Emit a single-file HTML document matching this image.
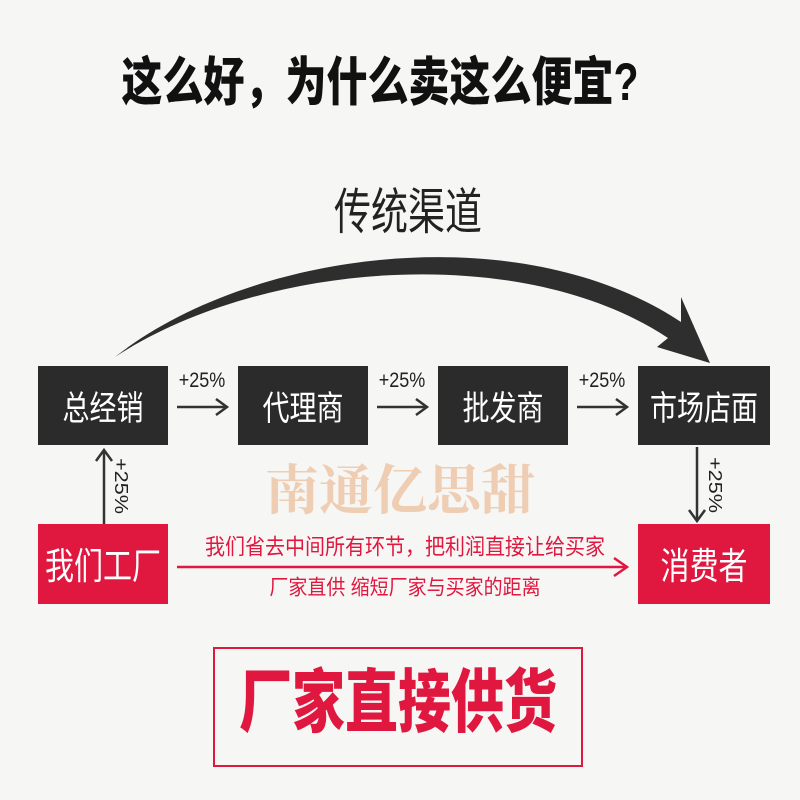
<!DOCTYPE html>
<html><head><meta charset="utf-8"><style>
body{margin:0;background:#f6f6f5;}
#c{position:relative;width:800px;height:800px;overflow:hidden;background:#f6f6f5;font-family:"Liberation Sans","Noto Sans CJK SC",sans-serif;}
.t{position:absolute;white-space:nowrap;text-align:center;transform-origin:center center;line-height:1;}
.box{position:absolute;background:#2b2b2b;color:#fff;display:flex;align-items:center;justify-content:center;font-size:27px;}
.box span{display:inline-block;transform:scaleY(1.27);}
.red{background:#e0173f;font-size:29px;}
</style></head><body><div id="c">
<div class="t" style="left:0;width:800px;top:62px;font-size:41px;font-weight:900;color:#111;transform:scaleY(1.28);margin-left:-20px">这么好，为什么卖这么便宜?</div>
<div class="t" style="left:0;width:800px;top:194px;font-size:37px;color:#222;transform:scaleY(1.33);margin-left:8px">传统渠道</div>

<svg style="position:absolute;left:0;top:0" width="800" height="800">
<path d="M115,357 C250,250 520,215 681,322 L681,297 L710,363 L657,347 L668,338 C520,240 260,262 115,357 Z" fill="#2e2e2e"/>
<g stroke="#333" stroke-width="2.5" fill="none">
<line x1="177" y1="407" x2="226" y2="407"/><polyline points="216,399 227,407 216,415"/>
<line x1="377" y1="407" x2="426" y2="407"/><polyline points="416,399 427,407 416,415"/>
<line x1="577" y1="407" x2="626" y2="407"/><polyline points="616,399 627,407 616,415"/>
<line x1="104" y1="450" x2="104" y2="524"/><polyline points="96,461 104,450 112,461"/>
<line x1="697" y1="447" x2="697" y2="521"/><polyline points="689,510 697,521 705,510"/>
</g>
<g stroke="#e0173f" stroke-width="2.5" fill="none">
<line x1="177" y1="567" x2="626" y2="567"/><polyline points="614,558 627,567 614,576"/>
</g>
</svg>

<div class="box" style="left:38px;top:366px;width:130px;height:79px"><span>总经销</span></div>
<div class="box" style="left:238px;top:366px;width:130px;height:79px"><span>代理商</span></div>
<div class="box" style="left:438px;top:366px;width:130px;height:79px"><span>批发商</span></div>
<div class="box" style="left:638px;top:366px;width:132px;height:79px"><span>市场店面</span></div>
<div class="box red" style="left:38px;top:524px;width:130px;height:80px"><span>我们工厂</span></div>
<div class="box red" style="left:638px;top:524px;width:132px;height:80px"><span>消费者</span></div>

<div class="t" style="left:172px;width:60px;top:371px;font-size:18px;color:#222;transform:scaleY(1.2)">+25%</div>
<div class="t" style="left:372px;width:60px;top:371px;font-size:18px;color:#222;transform:scaleY(1.2)">+25%</div>
<div class="t" style="left:572px;width:60px;top:371px;font-size:18px;color:#222;transform:scaleY(1.2)">+25%</div>
<div class="t" style="left:91px;width:60px;top:477px;font-size:18px;color:#222;transform:rotate(90deg) scaleX(1.2)">+25%</div>
<div class="t" style="left:685px;width:60px;top:476px;font-size:18px;color:#222;transform:rotate(90deg) scaleX(1.2)">+25%</div>

<div class="t" style="left:0;width:800px;top:464px;font-size:54px;font-weight:bold;color:#efcdb3;font-family:'Liberation Serif','Noto Serif CJK SC',serif">南通亿思甜</div>

<div class="t" style="left:205px;width:400px;top:538px;font-size:20px;color:#e0173f;transform:scaleY(1.1)">我们省去中间所有环节，把利润直接让给买家</div>
<div class="t" style="left:205px;width:400px;top:579px;font-size:19px;color:#e0173f;transform:scaleY(1.1)">厂家直供 缩短厂家与买家的距离</div>

<div style="position:absolute;left:213px;top:647px;width:366px;height:116px;border:2px solid #e0173f;"></div>
<div class="t" style="left:213px;width:370px;top:677px;font-size:53px;font-weight:900;color:#e0173f;transform:scaleY(1.3)">厂家直接供货</div>
</div></body></html>
